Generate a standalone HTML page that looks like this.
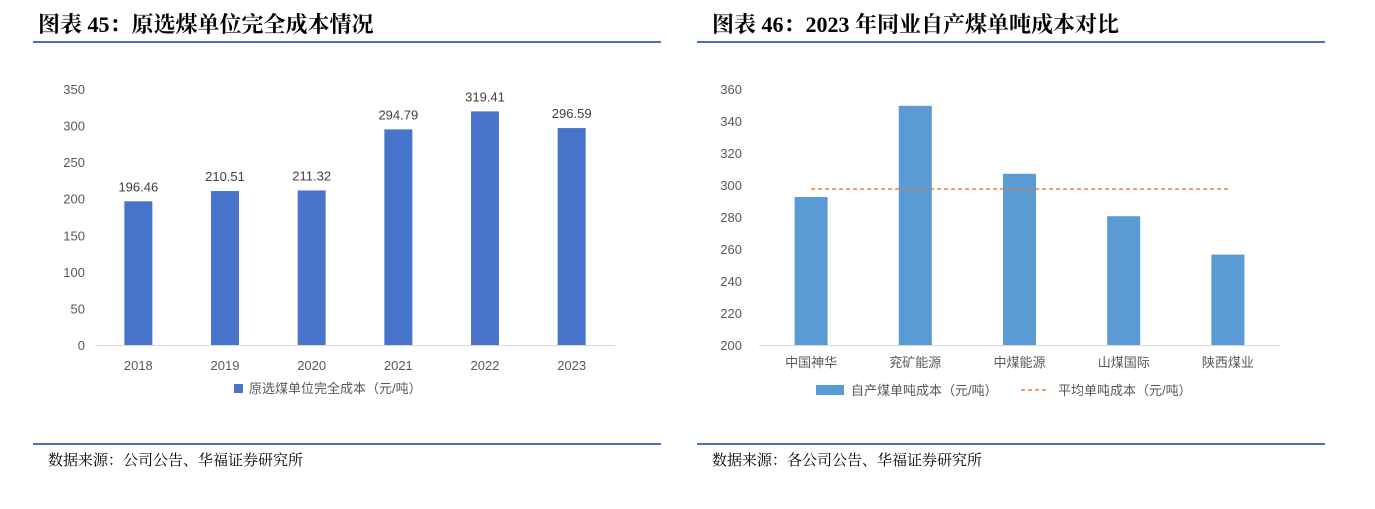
<!DOCTYPE html>
<html><head><meta charset="utf-8"><style>
body{margin:0;background:#fff;width:1375px;height:509px;overflow:hidden;position:relative;font-family:"Liberation Sans","Noto Sans CJK SC",sans-serif}
.t{position:absolute;font-family:"Liberation Serif","Noto Serif CJK SC",serif;font-weight:bold;font-size:22px;color:#000;top:8px}
.ln{position:absolute;height:2px;background:#4a72b8}
.src{position:absolute;font-family:"Liberation Serif","Noto Serif CJK SC",serif;font-size:15px;top:449px}
svg{position:absolute;left:0;top:0}
</style></head><body>
<div class="t" style="left:38px">图表 45：原选煤单位完全成本情况</div>
<div class="ln" style="left:33px;width:628px;top:41px"></div>
<div class="ln" style="left:33px;width:628px;top:443px"></div>
<div class="src" style="left:48px">数据来源：公司公告、华福证券研究所</div>
<div class="t" style="left:712px">图表 46：2023 年同业自产煤单吨成本对比</div>
<div class="ln" style="left:697px;width:628px;top:41px"></div>
<div class="ln" style="left:697px;width:628px;top:443px"></div>
<div class="src" style="left:712px">数据来源：各公司公告、华福证券研究所</div>
<svg id="s" width="1375" height="509"></svg>
<script>
const years=["2018","2019","2020","2021","2022","2023"];
const costs=[196.46,210.51,211.32,294.79,319.41,296.59];
const costLabels=["196.46","210.51","211.32","294.79","319.41","296.59"];
const leftTicks=[0,50,100,150,200,250,300,350];
const companies=["中国神华","兖矿能源","中煤能源","山煤国际","陕西煤业"];
const unitCost=[292.5,349.5,307,280.5,256.5];
const avgCost=297.5;
const rightTicks=[200,220,240,260,280,300,320,340,360];
const s=document.getElementById('s');
const NS='http://www.w3.org/2000/svg';
function mk(tag,a,txt){const e=document.createElementNS(NS,tag);for(const k in a)e.setAttribute(k,a[k]);if(txt!=null)e.textContent=txt;s.appendChild(e);return e;}
// left chart
const ly=v=>345-v*256/350, lx0=95, lw=520/6;
leftTicks.forEach(v=>{const e=mk('text',{x:85,y:ly(v)+5,'text-anchor':'end','font-size':13,fill:'#595959'},v);

});
years.forEach((y,i)=>{const cx=lx0+lw*(i+0.5);
const r=mk('rect',{x:cx-14,y:ly(costs[i]),width:28,height:345-ly(costs[i]),fill:'#4874cb'});


const l=mk('text',{x:cx,y:ly(costs[i])-10,'text-anchor':'middle','font-size':13,fill:'#404040'},costLabels[i]);


const t=mk('text',{x:cx,y:370,'text-anchor':'middle','font-size':13,fill:'#595959'},y);

});
const la=mk('line',{x1:lx0,x2:615,y1:345.5,y2:345.5,stroke:'#d9d9d9'});


const lg1=mk('rect',{x:234,y:384,width:9,height:9,fill:'#4874cb'});


const lg1t=mk('text',{x:249,y:393,'font-size':13,fill:'#595959'},'原选煤单位完全成本（元/吨）');


// right chart
const ry=v=>345-(v-200)*1.6, rx0=759, rw=521/5;
rightTicks.forEach(v=>{const e=mk('text',{x:742,y:ry(v)+5,'text-anchor':'end','font-size':13,fill:'#595959'},v);

});
companies.forEach((c,i)=>{const cx=rx0+rw*(i+0.5);
const r=mk('rect',{x:cx-16.5,y:ry(unitCost[i]),width:33,height:345-ry(unitCost[i]),fill:'#5b9bd5'});


const t=mk('text',{x:cx,y:367,'text-anchor':'middle','font-size':13,fill:'#595959'},c);

});
const ra=mk('line',{x1:rx0,x2:1280,y1:345.5,y2:345.5,stroke:'#d9d9d9'});


const av=mk('line',{x1:rx0+rw*0.5,x2:rx0+rw*4.5,y1:ry(avgCost),y2:ry(avgCost),stroke:'#ed7d31','stroke-width':1.5,'stroke-dasharray':'4,3'});


const g1=mk('rect',{x:816,y:385,width:28,height:10,fill:'#5b9bd5'});


const g1t=mk('text',{x:851,y:395,'font-size':13,fill:'#595959'},'自产煤单吨成本（元/吨）');


const g2=mk('line',{x1:1021,x2:1048,y1:390,y2:390,stroke:'#ed7d31','stroke-width':1.5,'stroke-dasharray':'4,3'});


const g2t=mk('text',{x:1058,y:395,'font-size':13,fill:'#595959'},'平均单吨成本（元/吨）');


</script>
</body></html>
